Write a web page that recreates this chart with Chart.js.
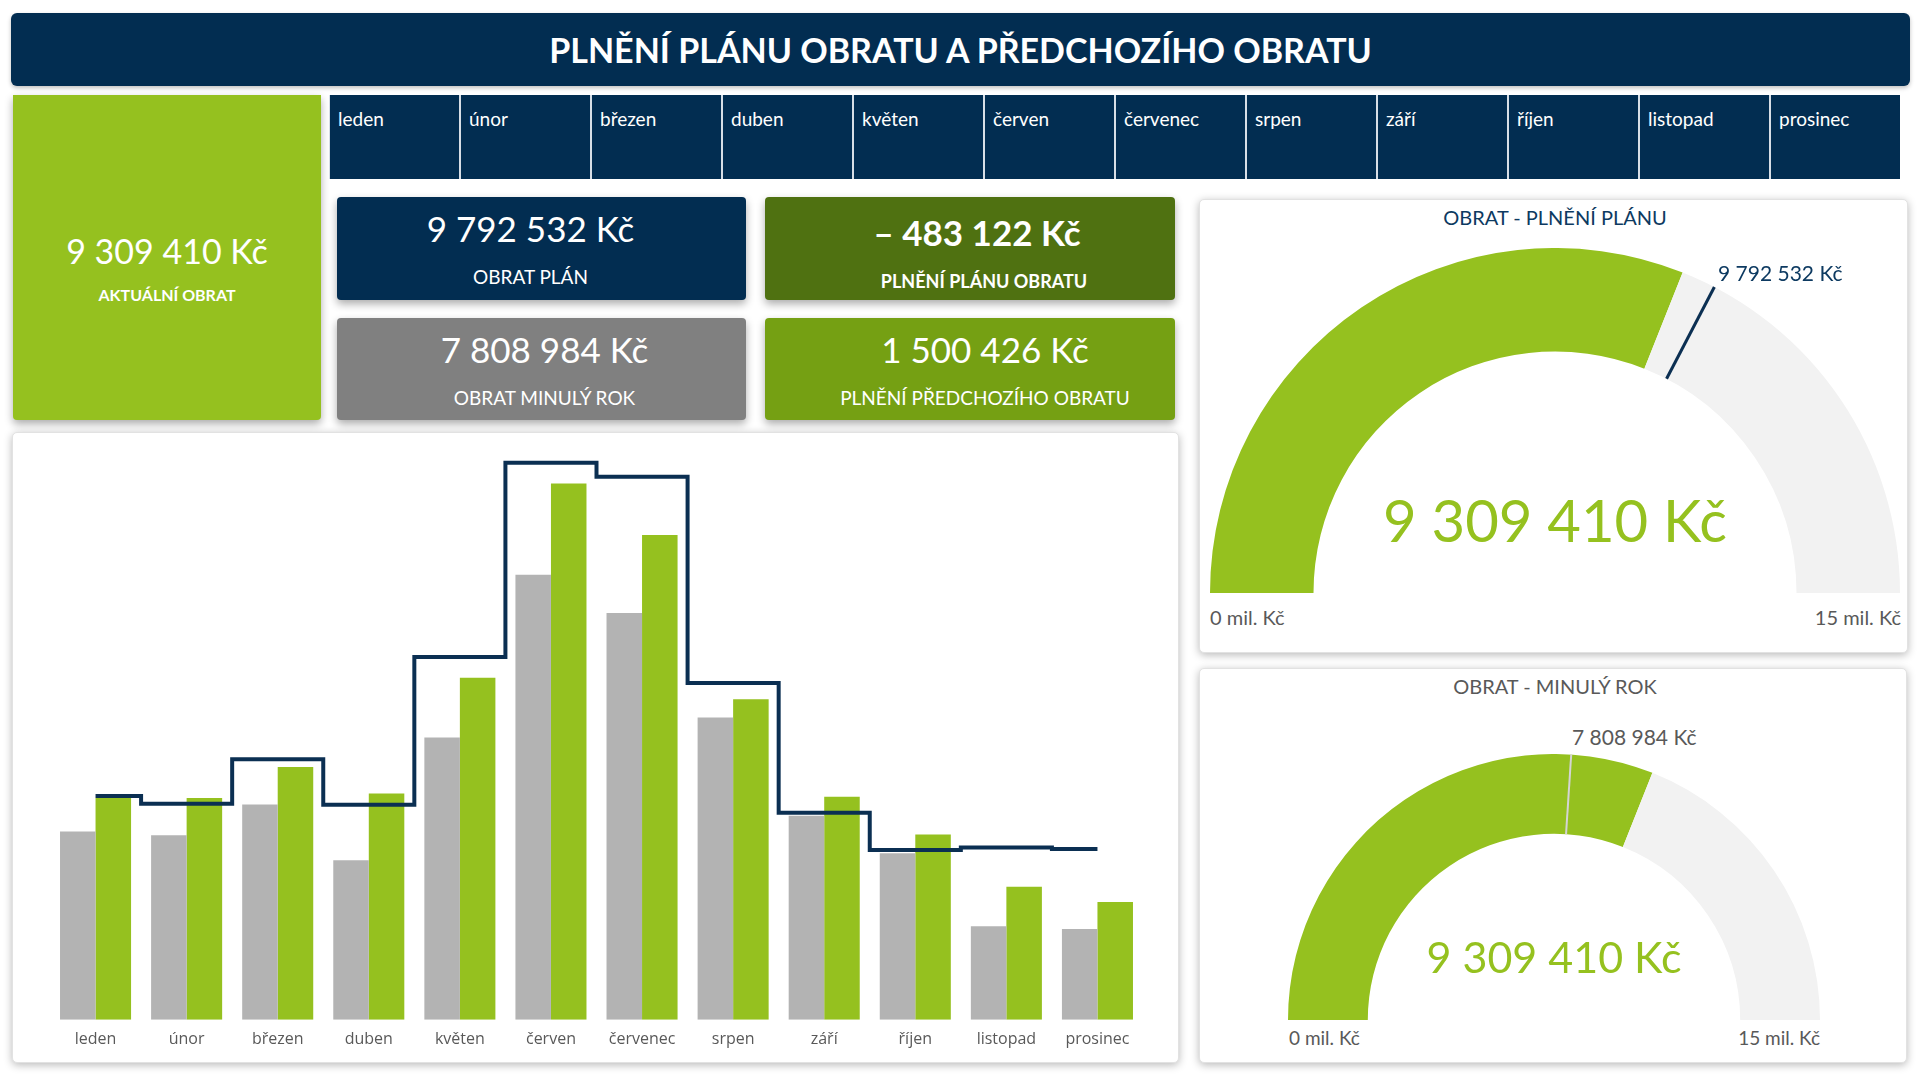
<!DOCTYPE html>
<html lang="cs">
<head>
<meta charset="utf-8">
<title>Plnění plánu obratu</title>
<script src="https://cdn.jsdelivr.net/npm/chart.js@4.4.1/dist/chart.umd.min.js"></script>
<style>
  html, body { margin: 0; padding: 0; }
  body {
    width: 1920px; height: 1080px; position: relative; overflow: hidden;
    background: #fff; font-family: Lato, "Open Sans", sans-serif; color: #fff;
  }
  .abs { position: absolute; }
  .title-bar {
    left: 11px; top: 13px; width: 1899px; height: 73px; background: #022d51;
    border-radius: 6px; box-shadow: 0 2px 4px rgba(0,0,0,0.25);
    font-weight: 700; font-size: 34px; line-height: 73px; text-align: center;
  }
  .box { border-radius: 4px; box-shadow: 0 4px 9px rgba(0,0,0,0.33); }
  .num, .lbl { position: absolute; left: 0; right: 0; text-align: center; white-space: nowrap; }
  .num { font-size: 35px; line-height: 40px; }
  .lbl { font-size: 19px; line-height: 22px; }
  .months {
    left: 329px; top: 95px; width: 1571px; height: 84px; display: flex; background: #022d51;
  }
  .months div {
    flex: 1; font-size: 19px; line-height: 48px; padding-left: 8px; border-left: 2px solid #d7dee6;
  }
  .months div:first-child { border-left: 1px solid #d7dee6; }
  .panel {
    background: #fff; border: 1px solid #e2e2e2; border-radius: 5px; box-sizing: border-box;
    box-shadow: 0 2px 9px rgba(0,0,0,0.28);
  }
  .gtxt { position: absolute; white-space: nowrap; }
</style>
</head>
<body>

<div class="abs title-bar">PLNĚNÍ PLÁNU OBRATU A PŘEDCHOZÍHO OBRATU</div>

<!-- aktuální obrat -->
<div class="abs box" style="left:13px;top:95px;width:308px;height:325px;background:#95c11f;border-radius:0 0 4px 4px">
  <div class="num" id="kpiAktualni" style="top:136px;font-size:34px"></div>
  <div class="lbl" style="top:189px;font-size:16px;font-weight:700">AKTUÁLNÍ OBRAT</div>
</div>

<div class="abs months" id="monthRow"></div>

<!-- karty -->
<div class="abs box" style="left:337px;top:197px;width:409px;height:103px;background:#022d51">
  <div class="num" id="kpiPlan" style="top:11px;padding-right:22px"></div>
  <div class="lbl" style="top:69px;padding-right:22px">OBRAT PLÁN</div>
</div>
<div class="abs box" style="left:765px;top:197px;width:410px;height:103px;background:#4f7111">
  <div class="num" id="kpiRozdilPlan" style="top:15px;font-weight:700;padding-left:14px"></div>
  <div class="lbl" style="top:73px;font-weight:700;padding-left:28px;font-size:18px">PLNĚNÍ PLÁNU OBRATU</div>
</div>
<div class="abs box" style="left:337px;top:318px;width:409px;height:102px;background:#808080">
  <div class="num" id="kpiMinuly" style="top:11px;padding-left:6px"></div>
  <div class="lbl" style="top:69px;padding-left:6px">OBRAT MINULÝ ROK</div>
</div>
<div class="abs box" style="left:765px;top:318px;width:410px;height:102px;background:#75a013">
  <div class="num" id="kpiRozdilMinuly" style="top:11px;padding-left:30px"></div>
  <div class="lbl" style="top:69px;padding-left:30px">PLNĚNÍ PŘEDCHOZÍHO OBRATU</div>
</div>

<!-- panely -->
<div class="abs panel" style="left:12px;top:432px;width:1167px;height:631px"></div>
<div class="abs panel" style="left:1199px;top:199px;width:709px;height:454px"></div>
<div class="abs panel" style="left:1199px;top:668px;width:708px;height:395px"></div>

<div class="abs" style="left:12px;top:432px;width:1167px;height:631px"><canvas id="barChart"></canvas></div>
<div class="abs" style="left:1210px;top:248px;width:690px;height:345px"><canvas id="gaugePlan"></canvas></div>
<div class="abs" style="left:1288px;top:754px;width:532px;height:266px"><canvas id="gaugeMinuly"></canvas></div>

<!-- texty gauge 1 -->
<div class="gtxt" style="left:1255px;width:600px;text-align:center;top:205px;font-size:20px;line-height:24px;color:#0d3a61">OBRAT - PLNĚNÍ PLÁNU</div>
<div class="gtxt" id="g1Marker" style="left:1718px;top:261px;font-size:21px;line-height:24px;color:#0d3a61"></div>
<div class="gtxt" id="g1Value" style="left:1255px;width:600px;text-align:center;top:486px;font-size:58px;line-height:68px;color:#95c11f"></div>
<div class="gtxt" id="g1Min" style="left:1210px;top:605px;font-size:20px;line-height:24px;color:#595959"></div>
<div class="gtxt" id="g1Max" style="right:19px;top:605px;font-size:20px;line-height:24px;color:#595959"></div>

<!-- texty gauge 2 -->
<div class="gtxt" style="left:1255px;width:600px;text-align:center;top:674px;font-size:20px;line-height:24px;color:#595959">OBRAT - MINULÝ ROK</div>
<div class="gtxt" id="g2Marker" style="left:1572px;top:725px;font-size:21px;line-height:24px;color:#595959"></div>
<div class="gtxt" id="g2Value" style="left:1254px;width:600px;text-align:center;top:931px;font-size:43px;line-height:52px;color:#95c11f"></div>
<div class="gtxt" id="g2Min" style="left:1289px;top:1027px;font-size:19px;line-height:22px;color:#595959"></div>
<div class="gtxt" id="g2Max" style="right:100px;top:1027px;font-size:19px;line-height:22px;color:#595959"></div>

<script>
// ─── DATA ────────────────────────────────────────────────────────────────────

const mesice = ['leden', 'únor', 'březen', 'duben', 'květen', 'červen',
                'červenec', 'srpen', 'září', 'říjen', 'listopad', 'prosinec'];

const obratMinulyRok = [536500, 526000, 613500, 455000, 805000, 1269000,
                        1159500, 862000, 582000, 474500, 267000, 259000];
const obratAktualni  = [632000, 632000, 721000, 645000, 975000, 1529000,
                        1382000, 913500, 635500, 528500, 379000, 336000];
const obratPlan      = [638000, 616000, 743000, 613000, 1034000, 1588000,
                        1548000, 960000, 590000, 484000, 491000, 487000];

const celkemAktualni = 9309410;
const celkemPlan     = 9792532;
const celkemMinuly   = 7808984;
const gaugeMax       = 15000000;

const ZELENA = '#95c11f';
const SEDA   = '#b3b3b3';
const NAVY   = '#0b2f52';

// ─── HELPERS ─────────────────────────────────────────────────────────────────

function kc(n) {
  const s = Math.abs(n).toString().replace(/\B(?=(\d{3})+(?!\d))/g, ' ') + ' Kč';
  return n < 0 ? '– ' + s : s;
}

function mil(n) { return (n / 1000000) + ' mil. Kč'; }

// ─── KPI ─────────────────────────────────────────────────────────────────────

document.getElementById('kpiAktualni').textContent = kc(celkemAktualni);
document.getElementById('kpiPlan').textContent = kc(celkemPlan);
document.getElementById('kpiMinuly').textContent = kc(celkemMinuly);
document.getElementById('kpiRozdilPlan').textContent = kc(celkemAktualni - celkemPlan);
document.getElementById('kpiRozdilMinuly').textContent = kc(celkemAktualni - celkemMinuly);

document.getElementById('monthRow').innerHTML = mesice.map(m => `<div>${m}</div>`).join('');

// ─── BAR CHART ───────────────────────────────────────────────────────────────

new Chart(document.getElementById('barChart'), {
  data: {
    labels: mesice,
    datasets: [
      { type: 'line', data: obratPlan, borderColor: NAVY, borderWidth: 4, stepped: 'middle',
        pointRadius: 0, borderJoinStyle: 'miter', fill: false, order: 0 },
      { type: 'bar', data: obratMinulyRok, backgroundColor: SEDA, order: 1,
        categoryPercentage: 0.78, barPercentage: 1.0 },
      { type: 'bar', data: obratAktualni, backgroundColor: ZELENA, order: 1,
        categoryPercentage: 0.78, barPercentage: 1.0 }
    ]
  },
  options: {
    responsive: true,
    maintainAspectRatio: false,
    animation: false,
    layout: { padding: { left: 38, right: 36, top: 9, bottom: 12 } },
    plugins: { legend: { display: false }, tooltip: { enabled: false } },
    scales: {
      x: {
        grid: { display: false }, border: { display: false },
        ticks: { color: '#595959', padding: 2, font: { family: '"Open Sans"', size: 16 } }
      },
      y: { display: false, min: 0, max: 1650000 }
    }
  }
});

// ─── GAUGES ──────────────────────────────────────────────────────────────────

const markerPlugin = {
  id: 'marker',
  afterDatasetsDraw(chart, args, opts) {
    const arc = chart.getDatasetMeta(0).data[0];
    const { x, y, innerRadius, outerRadius, startAngle } =
      arc.getProps(['x', 'y', 'innerRadius', 'outerRadius', 'startAngle'], true);
    const a = startAngle + Math.PI * opts.value / opts.max;
    const ctx = chart.ctx;
    ctx.save();
    ctx.strokeStyle = opts.color;
    ctx.lineWidth = opts.width;
    ctx.beginPath();
    ctx.moveTo(x + Math.cos(a) * innerRadius, y + Math.sin(a) * innerRadius);
    ctx.lineTo(x + Math.cos(a) * outerRadius, y + Math.sin(a) * outerRadius);
    ctx.stroke();
    ctx.restore();
  }
};

function gauge(id, value, marker, markerColor, markerWidth) {
  new Chart(document.getElementById(id), {
    type: 'doughnut',
    data: {
      datasets: [{
        data: [value, gaugeMax - value],
        backgroundColor: [ZELENA, '#f2f2f2'],
        borderWidth: 0
      }]
    },
    options: {
      responsive: true,
      maintainAspectRatio: false,
      animation: false,
      rotation: -90,
      circumference: 180,
      cutout: '70%',
      events: [],
      plugins: {
        legend: { display: false },
        tooltip: { enabled: false },
        marker: { value: marker, max: gaugeMax, color: markerColor, width: markerWidth }
      }
    },
    plugins: [markerPlugin]
  });
}

gauge('gaugePlan', celkemAktualni, celkemPlan, NAVY, 3);
gauge('gaugeMinuly', celkemAktualni, celkemMinuly, '#d4d4d4', 2);

document.getElementById('g1Marker').textContent = kc(celkemPlan);
document.getElementById('g1Value').textContent = kc(celkemAktualni);
document.getElementById('g1Min').textContent = mil(0);
document.getElementById('g1Max').textContent = mil(gaugeMax);
document.getElementById('g2Marker').textContent = kc(celkemMinuly);
document.getElementById('g2Value').textContent = kc(celkemAktualni);
document.getElementById('g2Min').textContent = mil(0);
document.getElementById('g2Max').textContent = mil(gaugeMax);
</script>
</body>
</html>
